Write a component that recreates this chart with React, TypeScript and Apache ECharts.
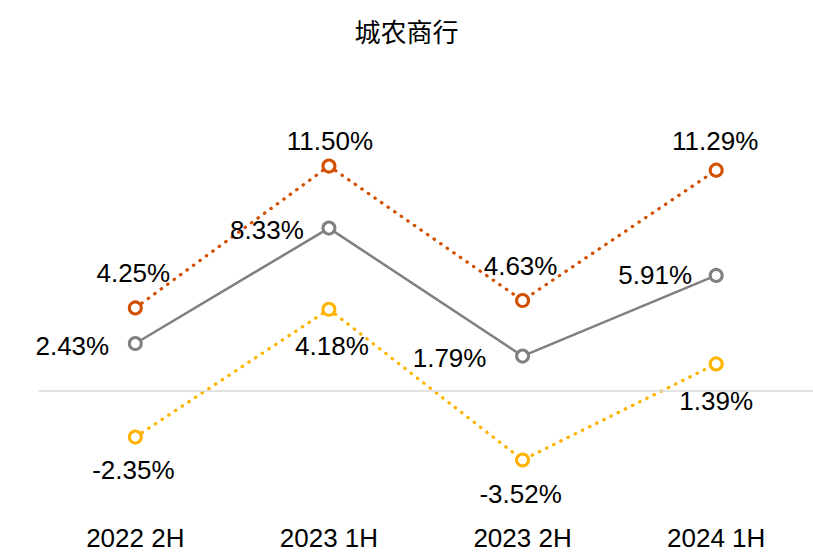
import React, { useEffect, useRef } from "react";
import * as echarts from "echarts";

const categories = ["2022 2H", "2023 1H", "2023 2H", "2024 1H"];
const orangeValues = [4.25, 11.5, 4.63, 11.29];
const grayValues = [2.43, 8.33, 1.79, 5.91];
const yellowValues = [-2.35, 4.18, -3.52, 1.39];
const title = "城农商行";

// label offsets (styling only) relative to each point
const orangeOffsets = [[-2, -35], [1, -25], [-2, -34], [-1, -29]];
const grayOffsets = [[-63, 2], [-62, 2], [-73, 2], [-61, 0]];
const yellowOffsets = [[-2, 33], [3, 37], [-2, 34], [0, 37]];

const FONT = "'Liberation Sans', Arial, sans-serif";

function mkData(values: number[], offsets: number[][]) {
  return values.map((v, i) => ({
    value: v,
    label: { offset: offsets[i] },
  }));
}

export default function App() {
  const ref = useRef<HTMLDivElement>(null);
  useEffect(() => {
    document.body.style.margin = "0";
    const chart = echarts.init(ref.current!, null, { renderer: "svg" });
    const labelBase = {
      show: true,
      position: "inside",
      fontSize: 26,
      fontFamily: FONT,
      color: "#000",
      formatter: (p: any) => p.value.toFixed(2) + "%",
    };
    const sym = { symbol: "circle", symbolSize: 12 };
    chart.setOption({
      animation: false,
      backgroundColor: "#fff",
      title: {
        text: title,
        left: "center",
        top: 12,
        textStyle: { fontSize: 26, fontWeight: "normal", color: "#000", fontFamily: "'Noto Sans CJK SC', sans-serif" },
      },
      grid: { left: 38.5, top: 78, width: 780, height: 430.5 },
      xAxis: {
        type: "category",
        data: categories,
        boundaryGap: true,
        axisLine: { show: false },
        axisTick: { show: false },
        axisLabel: { fontSize: 26, color: "#000", fontFamily: FONT, margin: 16 },
        splitLine: { show: false },
      },
      yAxis: { type: "value", min: -6, max: 16, show: false, splitLine: { show: false } },
      series: [
        {
          type: "line",
          name: "zero",
          data: [],
          silent: true,
          markLine: {
            silent: true,
            symbol: "none",
            label: { show: false },
            lineStyle: { color: "#d9d9d9", type: "solid", width: 1.5 },
            data: [{ yAxis: 0 }],
          },
        },
        {
          type: "line",
          name: "orange",
          data: mkData(orangeValues, orangeOffsets),
          ...sym,
          lineStyle: { color: "#D24E01", width: 3.2, type: [0.5, 7.5], cap: "round" },
          itemStyle: { color: "#fff", borderColor: "#D24E01", borderWidth: 3 },
          label: labelBase,
        },
        {
          type: "line",
          name: "gray",
          data: mkData(grayValues, grayOffsets),
          ...sym,
          lineStyle: { color: "#808080", width: 2.5, type: "solid" },
          itemStyle: { color: "#fff", borderColor: "#808080", borderWidth: 3 },
          label: labelBase,
        },
        {
          type: "line",
          name: "yellow",
          data: mkData(yellowValues, yellowOffsets),
          ...sym,
          lineStyle: { color: "#FFB300", width: 3.2, type: [0.5, 7.5], cap: "round" },
          itemStyle: { color: "#fff", borderColor: "#FFB300", borderWidth: 3 },
          label: labelBase,
        },
      ],
    });
    return () => chart.dispose();
  }, []);
  return <div ref={ref} style={{ width: 813, height: 554 }} />;
}
